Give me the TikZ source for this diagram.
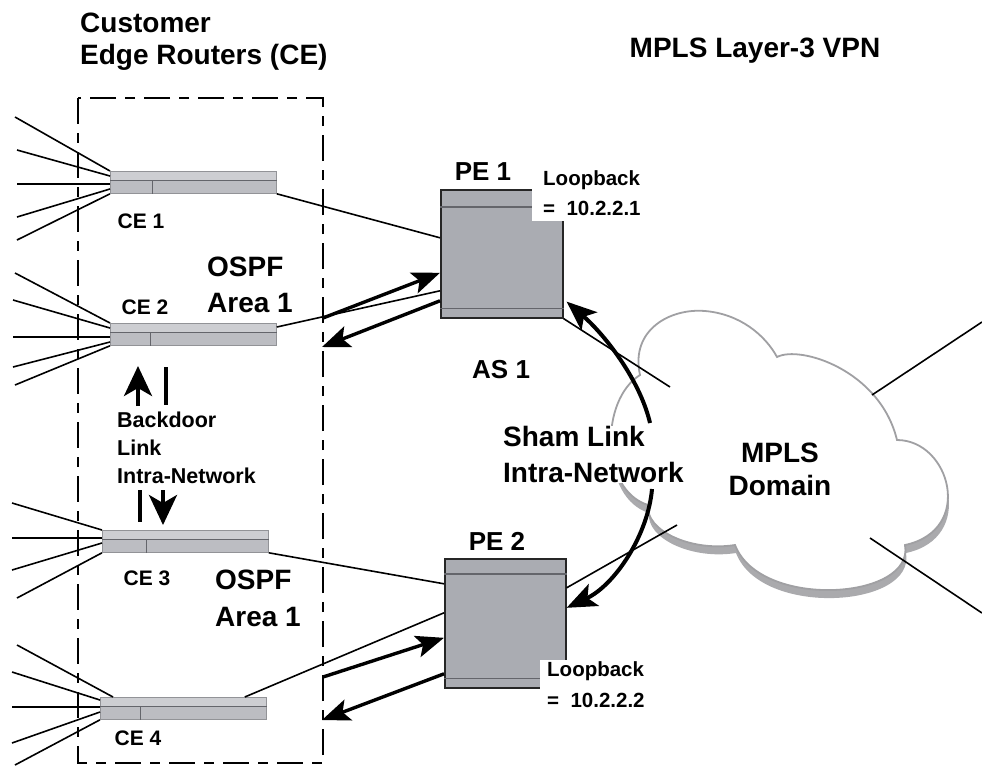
\documentclass[tikz,border=0pt]{standalone}
\usepackage{fontspec}
\setmainfont{Liberation Sans}
\usetikzlibrary{arrows.meta}
\definecolor{cefill}{RGB}{188,189,194}
\definecolor{cetop}{RGB}{205,206,210}
\definecolor{pefill}{RGB}{170,172,178}
\definecolor{stripe}{RGB}{100,101,107}
\definecolor{cloudline}{RGB}{160,160,163}
\definecolor{shadowgray}{RGB}{170,170,173}
\newcommand\myfs[1]{\fontsize{#1}{#1}\selectfont}
\begin{document}
\begin{tikzpicture}[x=1pt,y=-1pt,
  lbl/.style={inner sep=0pt,font=\bfseries\myfs{28}},
  lblce/.style={inner sep=0pt,font=\bfseries\myfs{21}},
  lblbd/.style={inner sep=0pt,font=\bfseries\myfs{21.5}},
  lblpe/.style={inner sep=0pt,font=\bfseries\myfs{26}},
  lbllb/.style={inner sep=0pt,font=\bfseries\myfs{20.5}},
  lblbig/.style={inner sep=0pt,font=\bfseries\myfs{28}},
  cebox/.style={draw=stripe!70,line width=0.8pt,fill=cefill,minimum width=166pt,minimum height=22pt,anchor=north west,inner sep=0pt},
  pebox/.style={draw=black!85,line width=1.6pt,fill=pefill,anchor=north west,inner sep=0pt},
  stripeline/.style={draw=stripe,line width=1.4pt},
  wire/.style={line width=1.6pt},
  fan/.style={line width=1.6pt},
  bigarrow/.style={line width=3.4pt,-{Stealth[length=28pt,width=22pt,inset=6pt]}},
  shamarrow/.style={line width=4pt,-{Stealth[length=30pt,width=24pt,inset=7pt]}},
  bdarrow/.style={line width=3.8pt,-{Stealth[length=30pt,width=28pt,inset=8pt]}},
  bdbar/.style={line width=3.8pt},
  ceborder/.style={line width=2.6pt,dash pattern=on 26pt off 9pt on 10pt off 9pt}
]
\useasboundingbox (0,0) rectangle (982,772);

% ---------- cloud (shadow + body) ----------
\begin{scope}[shift={(1,8)}]
\fill[shadowgray] (640,375) .. controls (630,330) and (670,308) .. (705,311)
  .. controls (740,314) and (765,335) .. (777,357)
  .. controls (800,345) and (880,370) .. (897,440)
  .. controls (950,440) and (975,530) .. (905,545)
  .. controls (915,600) and (760,610) .. (735,545)
  .. controls (690,552) and (645,530) .. (648,505)
  .. controls (600,490) and (600,400) .. (640,375) -- cycle;
\end{scope}
\filldraw[fill=white,draw=cloudline,line width=1.8pt] (640,375) .. controls (630,330) and (670,308) .. (705,311)
  .. controls (740,314) and (765,335) .. (777,357)
  .. controls (800,345) and (880,370) .. (897,440)
  .. controls (950,440) and (975,530) .. (905,545)
  .. controls (915,600) and (760,610) .. (735,545)
  .. controls (690,552) and (645,530) .. (648,505)
  .. controls (600,490) and (600,400) .. (640,375) -- cycle;

% ---------- dashed CE border ----------
\draw[ceborder] (78,98) rectangle (323,763);

% ---------- CE routers ----------
\node[cebox] (ce1) at (110,171) {};
\node[cebox] (ce2) at (110,323) {};
\node[cebox] (ce3) at (102,530) {};
\node[cebox] (ce4) at (100,697) {};
\foreach \n/\d in {ce1/42,ce2/40,ce3/44,ce4/40}{
  \fill[cetop] ([shift={(0.5pt,-0.5pt)}]\n.north west) rectangle ([shift={(-0.5pt,-9pt)}]\n.north east);
  \draw[stripeline,line width=1pt] ([yshift=-9pt]\n.north west) -- ([yshift=-9pt]\n.north east);
  \draw[stripeline,line width=1pt] ([xshift=\d pt,yshift=-9pt]\n.north west) -- ([xshift=\d pt]\n.south west);
}

% fan-out lines
\draw[fan] (ce1.north west) -- (15,117);
\draw[fan] ([yshift=-5pt]ce1.north west) -- (17,150);
\draw[fan] ([yshift=-13pt]ce1.north west) -- (17,184);
\draw[fan] ([yshift=-18pt]ce1.north west) -- (17,217);
\draw[fan] (ce1.south west) -- (17,240);

\draw[fan] (ce2.north west) -- (15,273);
\draw[fan] ([yshift=-5pt]ce2.north west) -- (13,300);
\draw[fan] ([yshift=-14pt]ce2.north west) -- (13,337);
\draw[fan] ([yshift=-19pt]ce2.north west) -- (13,367);
\draw[fan] (ce2.south west) -- (15,385);

\draw[fan] (ce3.north west) -- (12,503);
\draw[fan] ([yshift=-8pt]ce3.north west) -- (12,538);
\draw[fan] ([yshift=-13pt]ce3.north west) -- (12,570);
\draw[fan] (ce3.south west) -- (17,598);

\draw[fan] ([xshift=13pt]ce4.north west) -- (17,645);
\draw[fan] ([yshift=-3pt]ce4.north west) -- (12,672);
\draw[fan] ([yshift=-10pt]ce4.north west) -- (12,707);
\draw[fan] ([yshift=-15pt]ce4.north west) -- (12,743);
\draw[fan] (ce4.south west) -- (15,765);

% ---------- PE routers ----------
\node[pebox,minimum width=122pt,minimum height=128pt] (pe1) at (440,189) {};
\node[pebox,minimum width=121pt,minimum height=129pt] (pe2) at (444,558) {};
\draw[stripeline] ([yshift=-18pt]pe1.north west) -- ([yshift=-18pt]pe1.north east);
\draw[stripeline] ([yshift=10pt]pe1.south west) -- ([yshift=10pt]pe1.south east);
\draw[stripeline] ([yshift=-16pt]pe2.north west) -- ([yshift=-16pt]pe2.north east);
\draw[stripeline] ([yshift=10pt]pe2.south west) -- ([yshift=10pt]pe2.south east);
% white label patches over the box corners
\fill[white] (532,162) rectangle (648,221);
\fill[white] (540,660) rectangle (650,716);

% ---------- links CE - PE ----------
\draw[wire] (ce1.south east) -- ([yshift=16pt]pe1.west);
\draw[wire] ([yshift=-4pt]ce2.north east) -- ([yshift=-37pt]pe1.west);
\draw[wire] (ce3.south east) -- ([yshift=39.5pt]pe2.west);
\draw[wire] ([xshift=-22pt]ce4.north east) -- ([yshift=10.5pt]pe2.west);

\coordinate (a1s) at (323,318);
\coordinate (a2e) at (322,347);
\coordinate (a3s) at (323,677);
\coordinate (a4e) at (322,720);
\draw[bigarrow] (a1s) -- ([yshift=-19pt]pe1.west);
\draw[bigarrow] ([yshift=-47pt]pe1.west) -- (a2e);
\draw[bigarrow] (a3s) -- ([yshift=-14.5pt]pe2.west);
\draw[bigarrow] ([yshift=-50.5pt]pe2.west) -- (a4e);

% ---------- PE - cloud links ----------
\coordinate (c1) at (670,387);
\coordinate (c2) at (677,525);
\coordinate (c3) at (872,395);
\coordinate (c4) at (870,538);
\coordinate (r1) at (982,322);
\coordinate (r2) at (982,613);
\draw[wire] (pe1.south east) -- (c1);
\draw[wire] ([yshift=35.5pt]pe2.east) -- (c2);
\draw[wire] (c3) -- (r1);
\draw[wire] (c4) -- (r2);

% ---------- sham link ----------
\node[inner sep=0pt,fill=white,align=left,anchor=north west,font=\bfseries\fontsize{28}{36}\selectfont] (sham) at (503,426) {Sham Link\\Intra-Network};
\coordinate (s1) at (650,423);
\coordinate (s2) at (652,489);
\draw[shamarrow] (s1) .. controls (640,380) and (605,335) .. ([xshift=3pt,yshift=17pt]pe1.south east);
\draw[shamarrow] (s2) .. controls (648,535) and (615,585) .. ([yshift=15.5pt]pe2.east);

% ---------- backdoor ----------
\coordinate (b1s) at (138,406);
\coordinate (b1e) at (138,366);
\coordinate (b2s) at (166,367);
\coordinate (b2e) at (166,405);
\coordinate (b3s) at (140,490);
\coordinate (b3e) at (140,522);
\coordinate (b4s) at (163,490);
\coordinate (b4e) at (163,525);
\draw[bdarrow] (b1s) -- (b1e);
\draw[bdbar] (b2s) -- (b2e);
\draw[bdbar] (b3s) -- (b3e);
\draw[bdarrow] (b4s) -- (b4e);

% ---------- labels ----------
\node[lbl,anchor=base west] (cust1) at (80,32) {Customer};
\node[lbl,anchor=base west] (cust2) at (80,64) {Edge Routers (CE)};
\node[lbl,anchor=base] (title) at (755,57) {MPLS Layer-3 VPN};
\node[lbl,anchor=base west] (os1) at (207,276) {OSPF};
\node[lbl,anchor=base west] (os2) at (207,312) {Area 1};
\node[lbl,anchor=base west] (os3) at (215,589) {OSPF};
\node[lbl,anchor=base west] (os4) at (215,626) {Area 1};
\node[lblce,anchor=base] (ce1l) at (141,228) {CE 1};
\node[lblce,anchor=base] (ce2l) at (145,314) {CE 2};
\node[lblce,anchor=base] (ce3l) at (147,585) {CE 3};
\node[lblce,anchor=base] (ce4l) at (138,745) {CE 4};
\node[lblbd,anchor=base west] (bd1) at (117,427) {Backdoor};
\node[lblbd,anchor=base west] (bd2) at (117,455) {Link};
\node[lblbd,anchor=base west] (bd3) at (117,483) {Intra-Network};
\node[lblpe,anchor=base] (pe1l) at (483,180) {PE 1};
\node[lblpe,anchor=base] (pe2l) at (497,550) {PE 2};
\node[lbllb,anchor=base west] (lb1) at (543,185) {Loopback};
\node[lbllb,anchor=base west] (lb2) at (543,215) {=\ \ 10.2.2.1};
\node[lbllb,anchor=base west] (lb3) at (547,676) {Loopback};
\node[lbllb,anchor=base west] (lb4) at (547,707) {=\ \ 10.2.2.2};
\node[lblpe,anchor=base west] (as1) at (472,378) {AS 1};
\node[lblbig,anchor=base] (dom1) at (780,462) {MPLS};
\node[lblbig,anchor=base] (dom2) at (780,495) {Domain};
\end{tikzpicture}
\end{document}
